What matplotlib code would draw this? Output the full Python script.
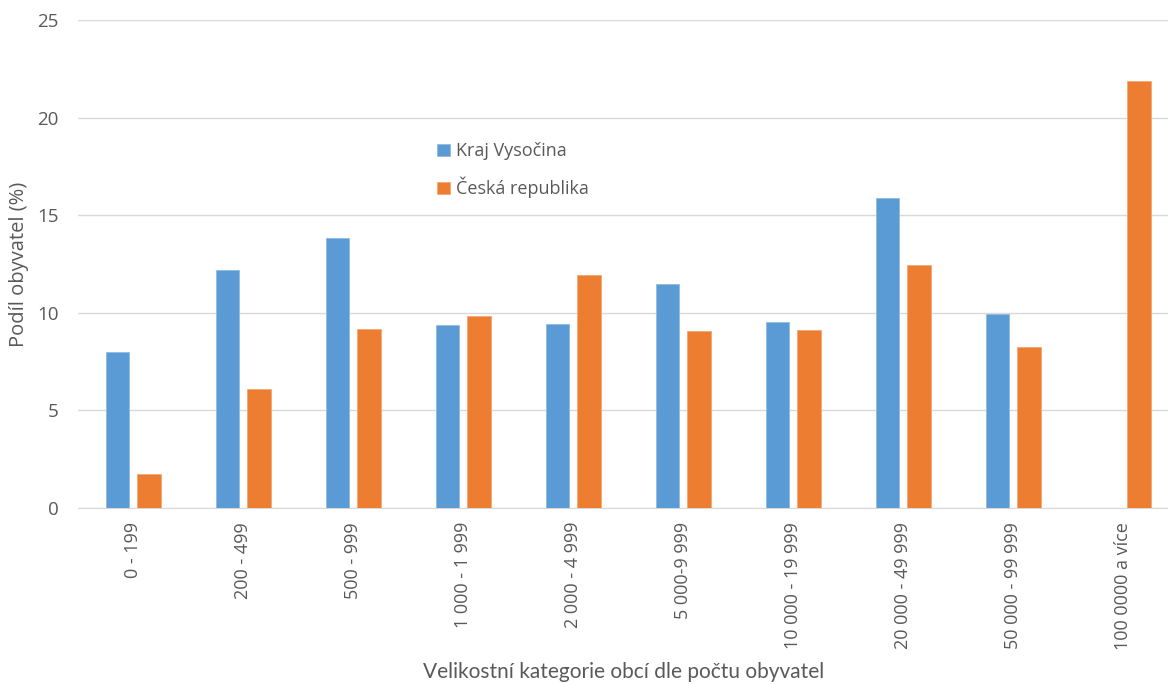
import matplotlib
matplotlib.use("Agg")
import matplotlib.pyplot as plt
import numpy as np

# velikostni kategorie obci
categories = ["0 - 199", "200 - 499", "500 - 999", "1 000 - 1 999", "2 000 - 4 999",
              "5 000-9 999", "10 000 - 19 999", "20 000 - 49 999", "50 000 - 99 999",
              "100 0000 a více"]
vysocina = [8.0, 12.2, 13.85, 9.35, 9.42, 11.5, 9.52, 15.9, 9.95, 0]
cr = [1.75, 6.12, 9.18, 9.86, 11.95, 9.06, 9.13, 12.47, 8.26, 21.88]

blue = "#5B9BD5"
orange = "#ED7D31"
text_col = "#595959"

plt.rcParams["font.family"] = ["Open Sans", "DejaVu Sans"]

fig = plt.figure(figsize=(11.68, 6.84), dpi=100)
ax = fig.add_axes([78 / 1168, 176 / 684, 1090 / 1168, 488 / 684])

x = np.arange(len(categories))
w = 0.218
off = 0.141
ax.bar(x - off, vysocina, w, color=blue, edgecolor="#8fbbe3", linewidth=0.6, label="Kraj Vysočina", zorder=3)
ax.bar(x + off, cr, w, color=orange, edgecolor="#f3a877", linewidth=0.6, label="Česká republika", zorder=3)

ax.set_ylim(0, 25)
ax.set_xlim(-0.5, 9.5 - 10 / 110)
ax.set_yticks([0, 5, 10, 15, 20, 25])
ax.yaxis.grid(True, color="#d9d9d9", linewidth=1, zorder=0)
ax.set_axisbelow(True)
for s in ["top", "right", "left"]:
    ax.spines[s].set_visible(False)
ax.spines["bottom"].set_color("#d9d9d9")
ax.tick_params(length=0, colors=text_col)
ax.tick_params(axis="y", labelsize=13.5, pad=14)
ax.tick_params(axis="x", labelsize=13, pad=10)
ax.set_xticks(x)
ax.set_xticklabels(categories, rotation=90)

ax.set_ylabel("Podíl obyvatel (%)", color=text_col, fontsize=14.5, labelpad=6)
fig.text(624 / 1168, 12 / 684, "Velikostní kategorie obcí dle počtu obyvatel",
         color=text_col, fontsize=15, ha="center", va="center", family=["Lato", "DejaVu Sans"])

leg = ax.legend(loc="upper left", bbox_to_anchor=(421 / 1168, 1 - 126 / 684),
                bbox_transform=fig.transFigure, frameon=False, fontsize=13,
                handlelength=0.7, handleheight=0.7, handletextpad=0.35, labelspacing=0.92)
for t in leg.get_texts():
    t.set_color(text_col)

fig.savefig("out.png", dpi=100)
